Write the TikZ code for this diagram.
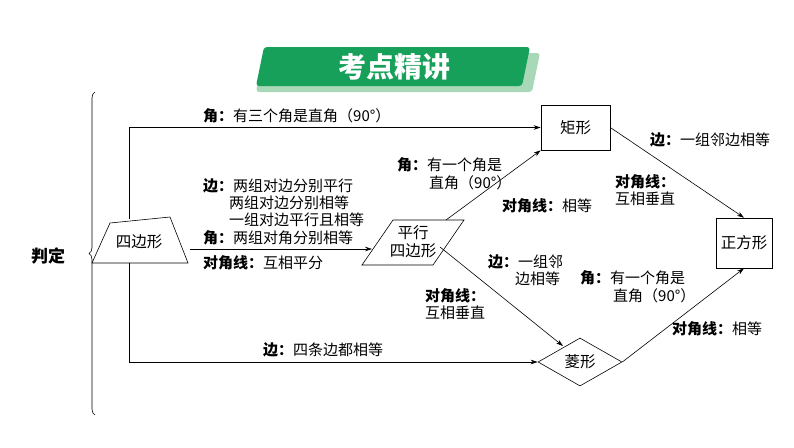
\documentclass[tikz,border=0pt]{standalone}
\usepackage{fontspec}
\setmainfont{Noto Sans CJK SC}
\usetikzlibrary{shapes.geometric,arrows.meta,decorations.pathreplacing}
\newcommand{\bb}[1]{\textbf{#1}}
\definecolor{hdgreen}{HTML}{17A05A}
\definecolor{hdshadow}{HTML}{A8D8B8}
\begin{document}
\begin{tikzpicture}[x=1pt,y=-1pt,
  lab/.style={inner sep=0pt,font=\fontsize{15}{17}\selectfont,anchor=west},
  ln/.style={line width=0.6pt},
  arr/.style={ln,-{Stealth[length=7pt,width=4.5pt]}},
  box/.style={draw,line width=0.6pt,font=\fontsize{15.5}{17}\selectfont}]
\useasboundingbox (0,0) rectangle (794,447);
% header
\fill[hdshadow,rounded corners=3pt] (264,53) -- (540,53) -- (532,92) -- (256,92) -- cycle;
\fill[hdgreen,rounded corners=3pt] (264,47) -- (530,47) -- (522,86) -- (256,86) -- cycle;
\node[text=white,font=\fontsize{28}{30}\selectfont\bfseries] (hd) at (394,67) {考点精讲};
% brace
\draw[line width=0.6pt,decorate,decoration={brace,amplitude=6pt}] (95,415) -- (95,92);
\node[font=\fontsize{17}{19}\selectfont\bfseries] (pd) at (48,256) {判定};
% nodes
\draw[ln] (92,263) -- (110,223) -- (170,217) -- (188,263) -- cycle;
\node[font=\fontsize{15.5}{17}\selectfont] (q) at (139,242) {四边形};
\coordinate (qt) at (129,219);
\coordinate (qb) at (129,263);
\coordinate (qr) at (190,249);
\draw[ln] (362,265) -- (393,220) -- (464,220) -- (433,265) -- cycle;
\node[font=\fontsize{15.5}{18}\selectfont,align=center,inner sep=0pt] (p) at (413,242) {平行\\四边形};
\coordinate (pl) at (372,249);
\coordinate (pt) at (446,220);
\coordinate (pr) at (440,247);
\node[box,minimum width=69pt,minimum height=45pt] (r) at (575.5,127.5) {矩形};
\node[box,minimum width=56pt,minimum height=50pt] (s) at (744,243) {正方形};
\node[box,diamond,aspect=1.7,inner sep=1pt,minimum width=84pt,minimum height=48pt] (l) at (580,362) {菱形};
% connectors
\draw[arr] (qt) |- (r.west);
\draw[arr] (qb) |- (l.west);
\draw[arr] (qr) -- (pl);
\draw[arr] (pt) -- (r.south west);
\draw[arr] (pr) -- (563,346);
\draw[arr] (r.east) -- (s.north);
\draw[arr] (l.east) -- (s.south);
% labels
\node[lab] (t1) at (203,116) {\bb{角：}有三个角是直角（90°）};
\node[lab] (t2) at (203,186) {\bb{边：}两组对边分别平行};
\node[lab] (t3) at (229,203) {两组对边分别相等};
\node[lab] (t4) at (229,220) {一组对边平行且相等};
\node[lab] (t5) at (203,238) {\bb{角：}两组对角分别相等};
\node[lab] (t6) at (203,263) {\bb{对角线：}互相平分};
\node[lab] (t7) at (397,165) {\bb{角：}有一个角是};
\node[lab] (t8) at (429,183) {直角（90°）};
\node[lab] (t9) at (502,206) {\bb{对角线：}相等};
\node[lab] (t10) at (650,140) {\bb{边：}一组邻边相等};
\node[lab] (t11) at (615,182) {\bb{对角线：}};
\node[lab] (t12) at (615,199) {互相垂直};
\node[lab] (t13) at (488,262) {\bb{边：}一组邻};
\node[lab] (t14) at (515,279) {边相等};
\node[lab] (t15) at (580,278) {\bb{角：}有一个角是};
\node[lab] (t16) at (613,296) {直角（90°）};
\node[lab] (t17) at (425,296) {\bb{对角线：}};
\node[lab] (t18) at (425,313) {互相垂直};
\node[lab] (t19) at (263,350) {\bb{边：}四条边都相等};
\node[lab] (t20) at (672,329) {\bb{对角线：}相等};
\end{tikzpicture}
\end{document}
